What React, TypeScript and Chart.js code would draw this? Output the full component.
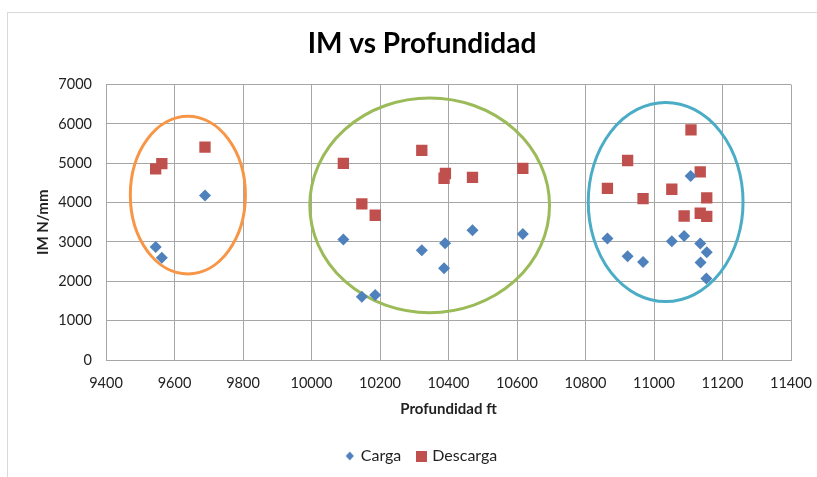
import React, { useEffect, useRef } from 'react';
import { Chart, registerables } from 'chart.js';

Chart.register(...registerables);

// ---- Data ----
const chartTitle = 'IM vs Profundidad';
const xTitle = 'Profundidad ft';
const yTitle = 'IM N/mm';

const cargaDepth = [9545, 9563, 9689, 10093, 10147, 10186, 10322, 10387, 10390, 10470, 10617, 10864, 10923, 10968, 11052, 11088, 11107, 11135, 11136, 11153, 11154];
const cargaIM = [2870, 2600, 4180, 3060, 1610, 1650, 2790, 2330, 2970, 3300, 3200, 3090, 2640, 2490, 3020, 3150, 4680, 2960, 2480, 2070, 2740];

const descargaDepth = [9545, 9563, 9689, 10093, 10147, 10186, 10322, 10387, 10391, 10470, 10617, 10864, 10923, 10968, 11052, 11088, 11108, 11135, 11135, 11154, 11154];
const descargaIM = [4860, 4990, 5410, 5000, 3970, 3680, 5330, 4620, 4740, 4640, 4870, 4360, 5070, 4100, 4340, 3660, 5850, 4780, 3730, 4120, 3650];

const xMin = 9400, xMax = 11400, xStep = 200;
const yMin = 0, yMax = 7000, yStep = 1000;

// Highlight ellipses (data units)
const ellipseCX = [9639, 10345, 11034];
const ellipseCY = [4192, 3932, 4016];
const ellipseRX = [168, 350, 226];
const ellipseRY = [2003, 2728, 2532];
const ellipseColors = ['#F79646', '#9BBB59', '#4BACC6'];

const BLUE = '#4F81BD';
const RED = '#C0504D';
const GRID = '#A6A6A6';
const FONT = 'Lato, "Open Sans", sans-serif';

function makeMarker(kind: 'diamond' | 'square', color: string): HTMLCanvasElement {
  const c = document.createElement('canvas');
  const s = kind === 'diamond' ? 10 : 11;
  c.width = s; c.height = s;
  const ctx = c.getContext('2d')!;
  ctx.fillStyle = color;
  if (kind === 'square') {
    ctx.fillRect(0, 0, s, s);
  } else {
    ctx.beginPath();
    ctx.moveTo(s / 2, 0.5);
    ctx.lineTo(s - 1, s / 2);
    ctx.lineTo(s / 2, s - 0.5);
    ctx.lineTo(1, s / 2);
    ctx.closePath();
    ctx.fill();
  }
  return c;
}

const framePlugin = {
  id: 'frame',
  beforeDraw(chart: any) {
    const { ctx, width, height } = chart;
    ctx.save();
    ctx.fillStyle = '#FFFFFF';
    ctx.fillRect(0, 0, width, height);
    ctx.strokeStyle = '#D9D9D9';
    ctx.lineWidth = 1;
    ctx.strokeRect(7.5, 12.5, width, height + 20);
    ctx.restore();
  },
};

const ellipsePlugin = {
  id: 'ellipses',
  beforeDatasetsDraw(chart: any) {
    const { ctx, scales } = chart;
    const xs = scales.x, ys = scales.y;
    ctx.save();
    ctx.lineWidth = 3;
    for (let i = 0; i < ellipseCX.length; i++) {
      const cx = xs.getPixelForValue(ellipseCX[i]);
      const cy = ys.getPixelForValue(ellipseCY[i]);
      const rx = Math.abs(xs.getPixelForValue(ellipseCX[i] + ellipseRX[i]) - cx);
      const ry = Math.abs(ys.getPixelForValue(ellipseCY[i] + ellipseRY[i]) - cy);
      ctx.strokeStyle = ellipseColors[i];
      ctx.beginPath();
      ctx.ellipse(cx, cy, rx, ry, 0, 0, Math.PI * 2);
      ctx.stroke();
    }
    ctx.restore();
  },
};

export default function App() {
  const ref = useRef<HTMLCanvasElement | null>(null);

  useEffect(() => {
    if (!ref.current) return;
    const diamond = makeMarker('diamond', BLUE);
    const square = makeMarker('square', RED);
    const chart = new Chart(ref.current, {
      type: 'scatter',
      data: {
        datasets: [
          {
            label: 'Carga',
            data: cargaDepth.map((x, i) => ({ x, y: cargaIM[i] })),
            backgroundColor: BLUE,
            borderColor: BLUE,
            borderWidth: 0,
            pointStyle: 'rectRot',
            pointRadius: 6,
            pointHoverRadius: 6,
          },
          {
            label: 'Descarga',
            data: descargaDepth.map((x, i) => ({ x, y: descargaIM[i] })),
            backgroundColor: RED,
            borderColor: RED,
            borderWidth: 0,
            pointStyle: 'rect',
            pointRadius: 8,
            pointHoverRadius: 8,
          },
        ],
      },
      options: {
        responsive: false,
        animation: false,
        devicePixelRatio: 1,
        layout: { padding: { left: 0, right: 0, top: 0, bottom: 3 } },
        plugins: {
          title: {
            display: true,
            text: chartTitle,
            color: '#000000',
            font: { family: FONT, size: 28, weight: 'bold', lineHeight: 1.2 },
            padding: { top: 27, bottom: 24 },
          },
          legend: {
            display: true,
            position: 'bottom',
            labels: {
              usePointStyle: true,
              pointStyleWidth: 6,
              color: '#222222',
              font: { family: FONT, size: 16 },
              padding: 17,
              generateLabels(chart: any) {
                const items = Chart.defaults.plugins.legend.labels.generateLabels(chart);
                items.forEach((it: any, i: number) => {
                  it.pointStyle = i === 0 ? diamond : square;
                });
                return items;
              },
            },
          },
          tooltip: { enabled: false },
        },
        scales: {
          x: {
            type: 'linear',
            position: 'bottom',
            min: xMin,
            max: xMax,
            ticks: {
              stepSize: xStep,
              padding: 15,
              color: '#222222',
              font: { family: FONT, size: 14.5 },
              maxRotation: 0,
              callback: (v: any) => String(v),
            },
            grid: { color: GRID, lineWidth: 1, drawTicks: false },
            border: { color: GRID, width: 1 },
            title: {
              display: true,
              text: xTitle,
              color: '#222222',
              font: { family: FONT, size: 15, weight: 'bold', lineHeight: 1.2 },
              padding: { top: 0, bottom: 13 },
            },
            afterFit(scale: any) {
              scale.height = 71;
            },
          },
          y: {
            type: 'linear',
            position: 'left',
            min: yMin,
            max: yMax,
            ticks: {
              stepSize: yStep,
              padding: 14,
              color: '#222222',
              font: { family: FONT, size: 14.5 },
              callback: (v: any) => String(v),
            },
            grid: { color: GRID, lineWidth: 1, drawTicks: false },
            border: { color: GRID, width: 1 },
            title: {
              display: true,
              text: yTitle,
              color: '#222222',
              font: { family: FONT, size: 15, weight: 'bold', lineHeight: 1.2 },
              padding: { top: 34, bottom: 0 },
            },
            afterFit(scale: any) {
              scale.width = 106;
            },
          },
          y2: {
            type: 'linear',
            position: 'right',
            display: true,
            ticks: { display: false },
            grid: { display: false, drawTicks: false },
            border: { display: false },
            title: { display: false },
            afterFit(scale: any) {
              scale.width = 53;
            },
          },
        },
      },
      plugins: [framePlugin, ellipsePlugin],
    } as any);
    return () => chart.destroy();
  }, []);

  return (
    <div style={{ position: 'fixed', left: 0, top: 0, width: 817, height: 477, overflow: 'hidden', background: '#fff' }}>
      <canvas ref={ref} width={844} height={477} style={{ display: 'block', width: 844, height: 477 }} />
    </div>
  );
}
